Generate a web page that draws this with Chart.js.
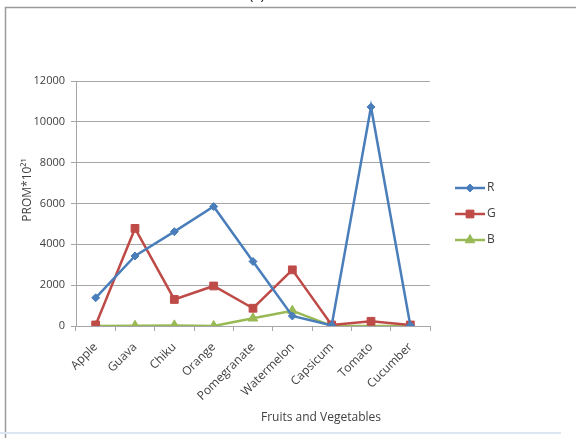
<!DOCTYPE html>
<html>
<head>
<meta charset="utf-8">
<script src="https://cdn.jsdelivr.net/npm/chart.js@4.4.1/dist/chart.umd.min.js"></script>
<style>
  html, body { margin: 0; padding: 0; background: #fff; }
  #wrap { width: 576px; height: 438px; position: relative; }
</style>
</head>
<body>
<div id="wrap"><canvas id="chart" width="576" height="438"></canvas></div>
<script>
// Chart data
const categories = ['Apple', 'Guava', 'Chiku', 'Orange', 'Pomegranate', 'Watermelon', 'Capsicum', 'Tomato', 'Cucumber'];
const seriesR = [1380, 3430, 4620, 5850, 3160, 490, 30, 10730, 20];
const seriesG = [50, 4780, 1300, 1960, 870, 2750, 50, 230, 50];
const seriesB = [0, 10, 30, 0, 380, 750, 0, 0, 0];
const yTicks = [0, 2000, 4000, 6000, 8000, 10000, 12000];

const FONT = '"Open Sans", "Noto Sans", sans-serif';
const TEXT = '#404040';
const GRID = '#a6a6a6';

// Frame, clipped title, axis titles and a line+marker legend
const decorations = {
  id: 'decorations',
  beforeDraw(chart) {
    const ctx = chart.ctx;
    ctx.save();
    ctx.strokeStyle = '#9a9a9a';
    ctx.lineWidth = 1.5;
    ctx.beginPath();
    ctx.moveTo(5.5, 438);
    ctx.lineTo(5.5, 7.5);
    ctx.lineTo(576, 7.5);
    ctx.stroke();
    ctx.strokeStyle = '#dce6f2';
    ctx.lineWidth = 2;
    ctx.beginPath();
    ctx.moveTo(0, 433);
    ctx.lineTo(561, 433);
    ctx.stroke();
    ctx.restore();
  },
  afterDraw(chart) {
    const ctx = chart.ctx;
    const area = chart.chartArea;
    ctx.save();
    ctx.fillStyle = '#222';
    ctx.font = '15px ' + FONT;
    ctx.textAlign = 'center';
    ctx.textBaseline = 'alphabetic';
    ctx.fillText('(c)', 257, -1);

    ctx.fillStyle = TEXT;
    ctx.font = '12px ' + FONT;
    ctx.fillText('Fruits and Vegetables', 321, 421);

    ctx.translate(28, 190);
    ctx.rotate(-Math.PI / 2);
    ctx.textBaseline = 'middle';
    ctx.fillText('PROM*10²¹', 0, 0);
    ctx.restore();

    // legend
    ctx.save();
    const x0 = area.right + 25;
    chart.data.datasets.forEach((ds, i) => {
      const y = 188 + i * 26;
      ctx.strokeStyle = ds.borderColor;
      ctx.lineWidth = 2.5;
      ctx.beginPath();
      ctx.moveTo(x0, y);
      ctx.lineTo(x0 + 30, y);
      ctx.stroke();
      ctx.fillStyle = ds.borderColor;
      ctx.lineWidth = 1;
      Chart.helpers.drawPoint(ctx, {
        pointStyle: ds.pointStyle,
        radius: ds.pointRadius,
        rotation: 0,
        borderWidth: 1
      }, x0 + 15, y);
      ctx.fillStyle = TEXT;
      ctx.font = '12px ' + FONT;
      ctx.textAlign = 'left';
      ctx.textBaseline = 'middle';
      ctx.fillText(ds.label, x0 + 32, y);
    });
    ctx.restore();
  }
};

function lineSet(label, data, color, style, radius) {
  return {
    label,
    data,
    borderColor: color,
    backgroundColor: color,
    borderWidth: 2.5,
    pointStyle: style,
    pointRadius: radius,
    pointHoverRadius: radius,
    pointBorderWidth: 1,
    tension: 0
  };
}

new Chart(document.getElementById('chart'), {
  type: 'line',
  data: {
    labels: categories,
    datasets: [
      lineSet('R', seriesR, '#4a7ebb', 'rectRot', 4),
      lineSet('G', seriesG, '#be4b48', 'rect', 5.5),
      lineSet('B', seriesB, '#98b954', 'triangle', 5.5)
    ]
  },
  options: {
    responsive: false,
    animation: false,
    layout: { padding: { left: 0, top: 81, right: 146, bottom: 0 } },
    plugins: {
      legend: { display: false },
      tooltip: { enabled: false }
    },
    scales: {
      x: {
        offset: true,
        afterFit: (scale) => { scale.height = 112; },
        grid: {
          offset: true,
          drawOnChartArea: false,
          color: GRID,
          tickLength: 5
        },
        border: { display: true, color: GRID },
        ticks: {
          minRotation: 45,
          maxRotation: 45,
          color: TEXT,
          padding: 9,
          font: { family: FONT, size: 12 }
        }
      },
      y: {
        min: 0,
        max: 12000,
        afterFit: (scale) => { scale.width = 76; },
        afterBuildTicks: (scale) => { scale.ticks = yTicks.map(v => ({ value: v })); },
        grid: { color: GRID, tickLength: 5 },
        border: { display: true, color: GRID },
        ticks: {
          color: TEXT,
          padding: 6,
          font: { family: FONT, size: 11 },
          callback: (v) => String(v)
        }
      }
    }
  },
  plugins: [decorations]
});
</script>
</body>
</html>
